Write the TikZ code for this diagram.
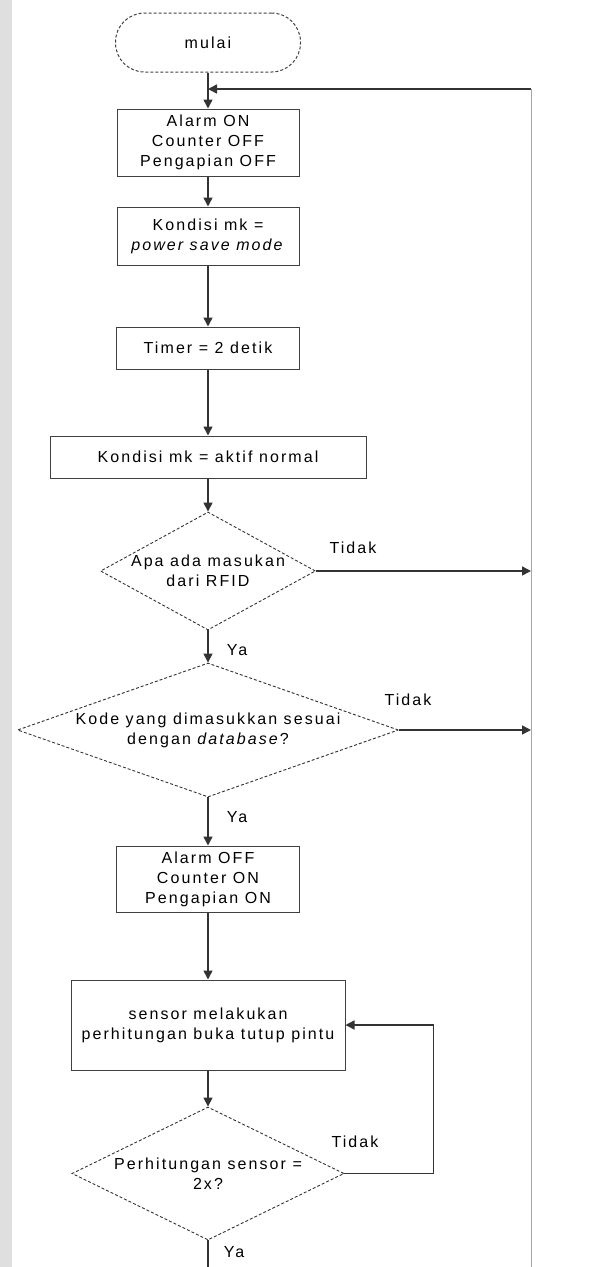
\documentclass[tikz,border=0pt]{standalone}
\usepackage{fontspec}
\setmainfont{Liberation Sans}[LetterSpace=13]
\usetikzlibrary{shapes.geometric,arrows.meta}

\begin{document}
\begin{tikzpicture}[x=1pt, y=-1pt,
  font=\fontsize{16}{20}\selectfont,
  box/.style={draw=black!75, line width=1pt, inner sep=0pt, align=center},
  cek/.style={diamond, draw=black!80, dash pattern=on 3pt off 2pt, line width=0.9pt, inner sep=-160pt, align=center},
  garis/.style={draw=black!80, line width=1.5pt},
  panah/.style={garis, -{Triangle[length=9pt,width=9pt]}},
  ket/.style={inner sep=0pt}]
  \useasboundingbox (0,0) rectangle (591,1267);
  \fill[gray!25] (0,0) rectangle (12,1267);

  \node[box, rounded corners=29pt, dash pattern=on 3pt off 2pt, minimum width=185pt, minimum height=59pt] (mulai) at (208,42.5) {mulai};
  \node[box, minimum width=182pt, minimum height=67pt] (alarmon) at (208,142.5) {Alarm ON\\Counter OFF\\Pengapian OFF};
  \node[box, minimum width=182pt, minimum height=58pt] (kondisi1) at (208,236) {Kondisi mk =\\\textit{power save mode}};
  \node[box, minimum width=183pt, minimum height=42pt] (timer) at (208,348) {Timer = 2 detik};
  \node[box, minimum width=316pt, minimum height=42pt] (kondisi2) at (208,457) {Kondisi mk = aktif normal};
  \node[cek, minimum width=215pt, minimum height=118pt] (rfid) at (208,571) {Apa ada masukan\\dari RFID};
  \node[cek, minimum width=381pt, minimum height=134pt] (kode) at (208,730) {Kode yang dimasukkan sesuai\\dengan \textit{database}?};
  \node[box, minimum width=183pt, minimum height=66pt] (alarmoff) at (208,879) {Alarm OFF\\Counter ON\\Pengapian ON};
  \node[box, minimum width=274pt, minimum height=90pt] (sensor) at (208,1025) {sensor melakukan\\perhitungan buka tutup pintu};
  \node[cek, minimum width=272pt, minimum height=133pt] (hitung) at (208,1173.5) {Perhitungan sensor =\\2x?};

  \coordinate (gabung) at (208,89);
  \coordinate (atas) at (531,89);
  \coordinate (bawah) at (531,1267);
  \coordinate (kanan1) at (531,571);
  \coordinate (kanan2) at (531,730);
  \coordinate (akhir) at (208,1267);

  \draw[panah] (mulai) -- (alarmon);
  \draw[draw=gray!70, line width=0.8pt] (bawah) -- (atas);
  \draw[panah] (atas) -- (gabung);
  \draw[panah] (alarmon) -- (kondisi1);
  \draw[panah] (kondisi1) -- (timer);
  \draw[panah] (timer) -- (kondisi2);
  \draw[panah] (kondisi2) -- (rfid);
  \draw[panah] (rfid) -- (kode);
  \draw[panah] (rfid.east) -- (kanan1);
  \draw[panah] (kode) -- (alarmoff);
  \draw[panah] (kode.east) -- (kanan2);
  \draw[panah] (alarmoff) -- (sensor);
  \draw[panah] (sensor) -- (hitung);
  \draw[panah] (hitung.east) -- ++(89,0) |- (sensor.east);
  \draw[garis] (hitung) -- (akhir);

  \node[ket] (tidak1) at (353,548) {Tidak};
  \node[ket] (ya1) at (237,650) {Ya};
  \node[ket] (tidak2) at (408,700) {Tidak};
  \node[ket] (ya2) at (237,817) {Ya};
  \node[ket] (tidak3) at (355,1142) {Tidak};
  \node[ket] (ya3) at (234,1252) {Ya};
\end{tikzpicture}
\end{document}
